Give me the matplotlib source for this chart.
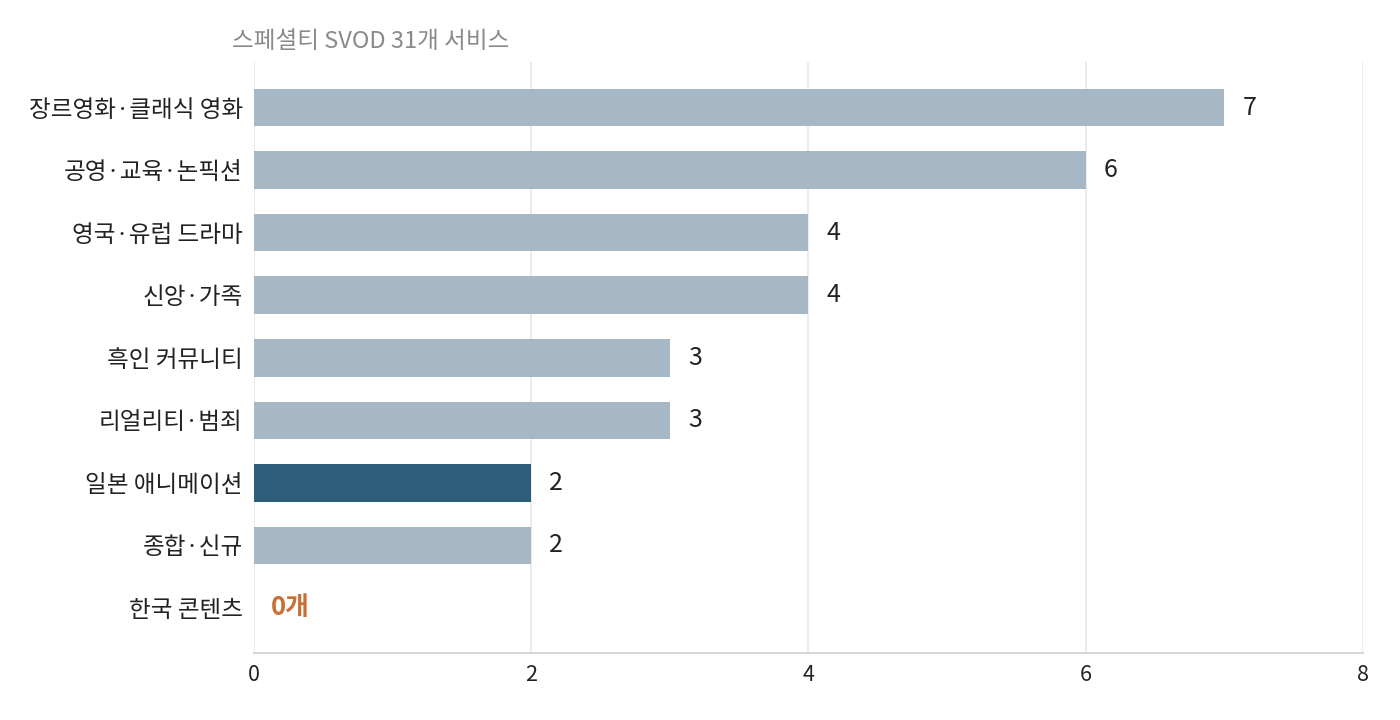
import matplotlib
matplotlib.use("Agg")
import matplotlib.pyplot as plt
from matplotlib.transforms import offset_copy

plt.rcParams['font.family'] = ['Noto Sans CJK KR', 'DejaVu Sans']

categories = ["장르영화·클래식 영화", "공영·교육·논픽션", "영국·유럽 드라마", "신앙·가족",
              "흑인 커뮤니티", "리얼리티·범죄", "일본 애니메이션", "종합·신규", "한국 콘텐츠"]
values = [7, 6, 4, 4, 3, 3, 2, 2, 0]
highlight = "일본 애니메이션"
title = "스페셜티 SVOD 31개 서비스"
xticks = [0, 2, 4, 6, 8]
zero_label = "0개"

fig = plt.figure(figsize=(14, 7.2), dpi=100)
ax = fig.add_axes([0.1814, 0.0931, 0.7921, 0.8208])

ypos = list(range(len(categories)))
colors = ["#2e5d7a" if c == highlight else "#a8b7c4" for c in categories]
ax.barh(ypos, values, height=0.6, color=colors, zorder=3)

for y, v in zip(ypos, values):
    if v > 0:
        tr = offset_copy(ax.transData, fig=fig, x=18, y=0, units='dots')
        ax.text(v, y, str(v), transform=tr, va='center', ha='left',
                fontsize=18, color='#222222')
    else:
        tr = offset_copy(ax.transData, fig=fig, x=17, y=0, units='dots')
        ax.text(v, y, zero_label, transform=tr, va='center', ha='left',
                fontsize=18.5, fontweight='bold', color='#c87137')

ax.set_yticks(ypos)
ax.set_yticklabels(categories, fontsize=17, color='#222222')
ax.set_ylim(8.72, -0.73)
ax.set_xlim(0, 8)
ax.set_xticks(xticks)
ax.set_xticklabels([str(t) for t in xticks], fontsize=15.5, color='#222222')
ax.tick_params(axis='y', length=0, pad=8)
ax.tick_params(axis='x', length=0, pad=8)

ax.grid(axis='x', color='#e8e8e8', linewidth=1.2, zorder=0)
for s in ['top', 'right', 'left']:
    ax.spines[s].set_visible(False)
ax.spines['bottom'].set_color('#d6d6d6')
ax.spines['bottom'].set_linewidth(1.5)

fig.text(232 / 1400, 1 - 42 / 720, title, fontsize=17, color='#8a8a8a',
         ha='left', va='center')

fig.savefig("out.png", dpi=100, facecolor='white')
